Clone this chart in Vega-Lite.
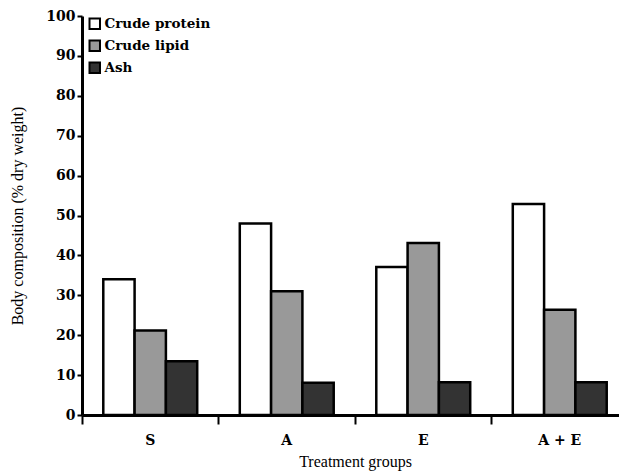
{
  "$schema": "https://vega.github.io/schema/vega-lite/v6.json",
  "autosize": {"type": "none"},
  "width": 537,
  "height": 399,
  "padding": {"left": 82, "top": 16, "right": 0, "bottom": 57},
  "background": "white",
  "config": {"view": {"stroke": null}, "font": "Liberation Serif"},
  "data": {"values": [
    {"group": "S", "component": "Crude protein", "value": 34},
    {"group": "S", "component": "Crude lipid", "value": 21.2},
    {"group": "S", "component": "Ash", "value": 13.5},
    {"group": "A", "component": "Crude protein", "value": 48},
    {"group": "A", "component": "Crude lipid", "value": 31},
    {"group": "A", "component": "Ash", "value": 8.1},
    {"group": "E", "component": "Crude protein", "value": 37.1},
    {"group": "E", "component": "Crude lipid", "value": 43.1},
    {"group": "E", "component": "Ash", "value": 8.2},
    {"group": "A + E", "component": "Crude protein", "value": 52.9},
    {"group": "A + E", "component": "Crude lipid", "value": 26.4},
    {"group": "A + E", "component": "Ash", "value": 8.2}
  ]},
  "mark": {"type": "bar", "stroke": "black", "strokeWidth": 2.5},
  "encoding": {
    "x": {
      "field": "group", "type": "nominal", "sort": ["S", "A", "E", "A + E"],
      "scale": {"range": [0, 546], "paddingInner": 0, "paddingOuter": 0},
      "axis": {
        "title": "Treatment groups", "labelAngle": 0, "bandPosition": 0,
        "labelFont": "DejaVu Serif", "labelFontWeight": "bold", "labelFontSize": 14, "labelColor": "black",
        "labelPadding": 9,
        "titleFont": "Liberation Serif", "titleFontWeight": "normal", "titleFontSize": 16, "titleColor": "black",
        "titlePadding": 6,
        "domainColor": "black", "domainWidth": 3, "tickColor": "black", "tickWidth": 2, "tickSize": 9,
        "grid": false
      }
    },
    "xOffset": {
      "field": "component", "type": "nominal", "sort": ["Crude protein", "Crude lipid", "Ash"],
      "scale": {"paddingInner": 0, "paddingOuter": 0.68}
    },
    "y": {
      "field": "value", "type": "quantitative",
      "scale": {"domain": [0, 100], "nice": false},
      "axis": {
        "title": "Body composition (% dry weight)", "values": [0,10,20,30,40,50,60,70,80,90,100],
        "labelFont": "DejaVu Serif", "labelFontWeight": "bold", "labelFontSize": 14, "labelColor": "black",
        "labelPadding": 2,
        "titleFont": "Liberation Serif", "titleFontWeight": "normal", "titleFontSize": 16, "titleColor": "black",
        "titlePadding": 20,
        "domainColor": "black", "domainWidth": 3, "tickColor": "black", "tickWidth": 2, "tickSize": 5,
        "grid": false
      }
    },
    "fill": {
      "field": "component", "type": "nominal", "sort": ["Crude protein", "Crude lipid", "Ash"],
      "scale": {"domain": ["Crude protein", "Crude lipid", "Ash"], "range": ["#ffffff", "#999999", "#333333"]},
      "legend": {
        "title": null, "orient": "none", "legendX": 6, "legendY": 1,
        "symbolType": "square", "symbolSize": 110, "symbolStrokeColor": "black", "symbolStrokeWidth": 2,
        "symbolOpacity": 1,
        "labelFont": "DejaVu Serif", "labelFontWeight": "bold", "labelFontSize": 13.5, "labelColor": "black",
        "labelOffset": 3, "rowPadding": 3
      }
    }
  }
}
